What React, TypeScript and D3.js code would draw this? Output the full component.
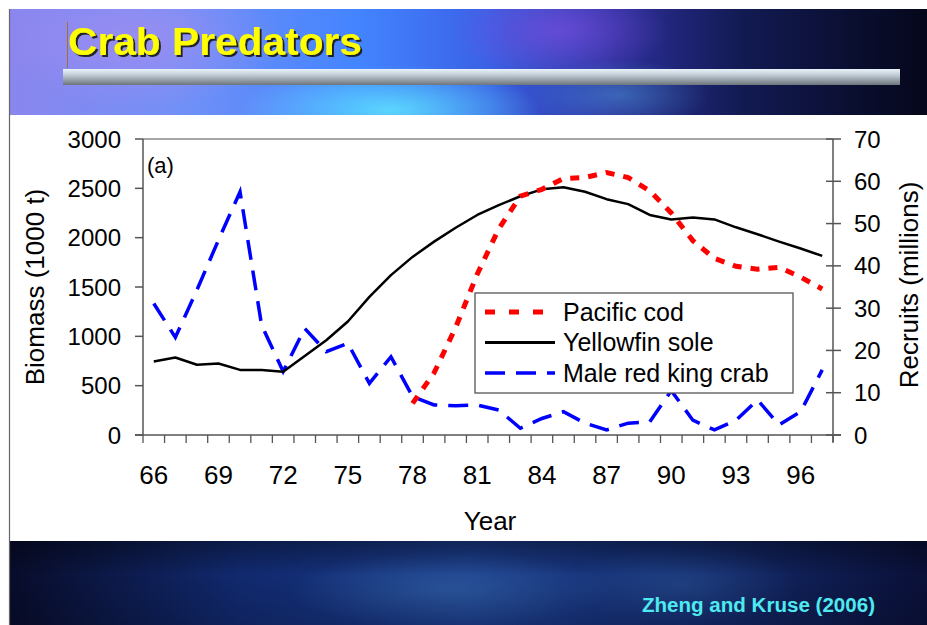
import React from 'react';
import * as d3 from 'd3';

// Years on the category axis (19xx)
const years = [66, 67, 68, 69, 70, 71, 72, 73, 74, 75, 76, 77, 78, 79, 80, 81, 82, 83, 84, 85, 86, 87, 88, 89, 90, 91, 92, 93, 94, 95, 96, 97];

// Yellowfin sole biomass (1000 t), left axis
const yellowfinSole = [745, 785, 712, 725, 660, 658, 640, 800, 960, 1150, 1400, 1620, 1805, 1960, 2100, 2230, 2330, 2420, 2490, 2510, 2465, 2390, 2340, 2230, 2185, 2205, 2185, 2105, 2035, 1960, 1890, 1815];

// Pacific cod biomass (1000 t), left axis, starts 1978
const codYears = [78, 79, 80, 81, 82, 83, 84, 85, 86, 87, 88, 89, 90, 91, 92, 93, 94, 95, 96, 97];
const pacificCod = [320, 630, 1090, 1630, 2090, 2420, 2490, 2600, 2610, 2660, 2610, 2475, 2250, 1970, 1790, 1710, 1680, 1700, 1600, 1480];

// Male red king crab recruits (millions), right axis
const kingCrab = [31.1, 23.1, 34.3, 46.1, 57.5, 26, 15.0, 25.2, 19.7, 21.7, 12.2, 18.5, 9.1, 7.1, 6.9, 7.1, 5.9, 1.6, 3.9, 5.5, 2.8, 1.2, 2.8, 3.1, 10.5, 3.5, 1.2, 3.5, 8.3, 2.4, 5.5, 15.4];

const leftTicks = [0, 500, 1000, 1500, 2000, 2500, 3000];
const rightTicks = [0, 10, 20, 30, 40, 50, 60, 70];
const yearLabels = [66, 69, 72, 75, 78, 81, 84, 87, 90, 93, 96];

const legendItems = [
    { label: 'Pacific cod', color: '#ff0000', width: 5, dash: '10 14' },
    { label: 'Yellowfin sole', color: '#000000', width: 3, dash: '' },
    { label: 'Male red king crab', color: '#0000ff', width: 3.5, dash: '20 11' },
];

const W = 927;
const H = 625;
const FONT = '"Liberation Sans", Arial, sans-serif';

export default function App() {
    const plot = { left: 143, right: 833, top: 139, bottom: 435 };

    const x = d3.scaleLinear().domain([65.5, 97.5]).range([plot.left, plot.right]);
    const yLeft = d3.scaleLinear().domain([0, 3000]).range([plot.bottom, plot.top]);
    const yRight = d3.scaleLinear().domain([0, 70]).range([plot.bottom, plot.top]);

    const lineLeft = d3.line<[number, number]>().x((d) => x(d[0])).y((d) => yLeft(d[1]));
    const lineRight = d3.line<[number, number]>().x((d) => x(d[0])).y((d) => yRight(d[1]));

    const solePath = lineLeft(years.map((yr, i) => [yr, yellowfinSole[i]] as [number, number])) ?? '';
    const codPath = lineLeft(codYears.map((yr, i) => [yr, pacificCod[i]] as [number, number])) ?? '';
    const crabPath = lineRight(years.map((yr, i) => [yr, kingCrab[i]] as [number, number])) ?? '';

    // tick marks sit on year boundaries
    const boundaries = [...years.map((yr) => yr - 0.5), 97.5];

    const axisColor = '#555';

    return (
        <svg width={W} height={H} style={{ position: 'absolute', left: 0, top: 0 }} fontFamily={FONT}>
            <defs>
                <linearGradient id="topBg" x1="0" x2="1" y1="0" y2="0">
                    <stop offset="0" stopColor="#8a86ee" />
                    <stop offset="0.18" stopColor="#7390f6" />
                    <stop offset="0.38" stopColor="#4384ff" />
                    <stop offset="0.52" stopColor="#3a62e6" />
                    <stop offset="0.66" stopColor="#2c2f9a" />
                    <stop offset="0.8" stopColor="#121a52" />
                    <stop offset="1" stopColor="#05071a" />
                </linearGradient>
                <radialGradient id="cyanGlow" cx="0.5" cy="0.5" r="0.5">
                    <stop offset="0" stopColor="#5fe6ff" stopOpacity="0.85" />
                    <stop offset="1" stopColor="#5fe6ff" stopOpacity="0" />
                </radialGradient>
                <radialGradient id="purpleGlow" cx="0.5" cy="0.5" r="0.5">
                    <stop offset="0" stopColor="#7a4de0" stopOpacity="0.7" />
                    <stop offset="1" stopColor="#7a4de0" stopOpacity="0" />
                </radialGradient>
                <radialGradient id="lilacGlow" cx="0.5" cy="0.5" r="0.5">
                    <stop offset="0" stopColor="#b08cf0" stopOpacity="0.6" />
                    <stop offset="1" stopColor="#b08cf0" stopOpacity="0" />
                </radialGradient>
                <linearGradient id="barGrad" x1="0" x2="0" y1="0" y2="1">
                    <stop offset="0" stopColor="#e8f2f8" />
                    <stop offset="0.35" stopColor="#c4d0d8" />
                    <stop offset="1" stopColor="#6c747c" />
                </linearGradient>
                <linearGradient id="botBg" x1="0" x2="1" y1="0" y2="0">
                    <stop offset="0" stopColor="#080c2a" />
                    <stop offset="0.25" stopColor="#11296e" />
                    <stop offset="0.5" stopColor="#1a3a88" />
                    <stop offset="0.75" stopColor="#132a6c" />
                    <stop offset="1" stopColor="#0a1038" />
                </linearGradient>
                <linearGradient id="botShade" x1="0" x2="0" y1="0" y2="1">
                    <stop offset="0" stopColor="#000" stopOpacity="0.35" />
                    <stop offset="0.4" stopColor="#000" stopOpacity="0" />
                    <stop offset="1" stopColor="#000" stopOpacity="0.15" />
                </linearGradient>
                <radialGradient id="botGlow" cx="0.5" cy="0.5" r="0.5">
                    <stop offset="0" stopColor="#3a70b0" stopOpacity="0.5" />
                    <stop offset="1" stopColor="#3a70b0" stopOpacity="0" />
                </radialGradient>
                <filter id="titleShadow" x="-5%" y="-20%" width="110%" height="140%">
                    <feDropShadow dx="2" dy="2" stdDeviation="0.6" floodColor="#1a1a1a" floodOpacity="0.95" />
                </filter>
                <clipPath id="topClip">
                    <rect x={9} y={9} width={W - 9} height={106} />
                </clipPath>
                <clipPath id="botClip">
                    <rect x={9} y={541} width={W - 9} height={H - 541} />
                </clipPath>
            </defs>

            <rect x={0} y={0} width={W} height={H} fill="#fff" />

            {/* top banner */}
            <g clipPath="url(#topClip)">
                <rect x={9} y={9} width={W - 9} height={106} fill="url(#topBg)" />
                <ellipse cx={140} cy={40} rx={140} ry={70} fill="url(#lilacGlow)" />
                <ellipse cx={390} cy={110} rx={150} ry={45} fill="url(#cyanGlow)" />
                <ellipse cx={560} cy={30} rx={110} ry={50} fill="url(#purpleGlow)" />
                <ellipse cx={620} cy={95} rx={90} ry={35} fill="url(#cyanGlow)" opacity={0.35} />
            </g>
            <rect x={63} y={69} width={837} height={16} fill="url(#barGrad)" />
            <line x1={67.5} x2={67.5} y1={22} y2={68} stroke="#a07030" strokeWidth={1} />
            <text x={68} y={55} fontSize={38} fontWeight={700} fill="#ffff00" textLength={294} lengthAdjust="spacingAndGlyphs" filter="url(#titleShadow)">
                Crab Predators
            </text>

            {/* bottom banner */}
            <g clipPath="url(#botClip)">
                <rect x={9} y={541} width={W - 9} height={H - 541} fill="url(#botBg)" />
                <ellipse cx={450} cy={590} rx={160} ry={40} fill="url(#botGlow)" />
                <ellipse cx={680} cy={585} rx={120} ry={40} fill="url(#botGlow)" opacity={0.6} />
                <rect x={9} y={541} width={W - 9} height={H - 541} fill="url(#botShade)" />
            </g>
            <text x={875} y={612} fontSize={20} fontWeight={700} fill="#4eeaf0" textAnchor="end" textLength={233} lengthAdjust="spacingAndGlyphs">
                Zheng and Kruse (2006)
            </text>

            {/* slide left edge */}
            <line x1={9.5} x2={9.5} y1={9} y2={H} stroke="#666" strokeWidth={1.2} />

            {/* plot frame */}
            <line x1={plot.left} x2={plot.right} y1={plot.top} y2={plot.top} stroke="#888" strokeWidth={1.5} />
            <line x1={plot.left} x2={plot.left} y1={plot.top} y2={plot.bottom} stroke={axisColor} strokeWidth={1.5} />
            <line x1={plot.right} x2={plot.right} y1={plot.top} y2={plot.bottom + 7} stroke={axisColor} strokeWidth={1.5} />
            <line x1={plot.left - 8} x2={plot.right + 8} y1={plot.bottom} y2={plot.bottom} stroke={axisColor} strokeWidth={1.5} />

            {/* left axis */}
            {leftTicks.map((t) => (
                <g key={`l${t}`}>
                    <line x1={plot.left - 8} x2={plot.left} y1={yLeft(t)} y2={yLeft(t)} stroke={axisColor} strokeWidth={1.5} />
                    <text x={121} y={yLeft(t)} dy="0.36em" fontSize={24} textAnchor="end" fill="#000">
                        {t}
                    </text>
                </g>
            ))}

            {/* right axis */}
            {rightTicks.map((t) => (
                <g key={`r${t}`}>
                    <line x1={plot.right - 7} x2={plot.right + 8} y1={yRight(t)} y2={yRight(t)} stroke={axisColor} strokeWidth={1.5} />
                    <text x={854} y={yRight(t)} dy="0.36em" fontSize={24} textAnchor="start" fill="#000">
                        {t}
                    </text>
                </g>
            ))}

            {/* bottom axis */}
            {boundaries.map((b) => (
                <line key={`b${b}`} x1={x(b)} x2={x(b)} y1={plot.bottom} y2={plot.bottom + 8} stroke={axisColor} strokeWidth={1.3} />
            ))}
            {yearLabels.map((yr) => (
                <text key={`y${yr}`} x={x(yr)} y={484} fontSize={26} textAnchor="middle" fill="#000">
                    {yr}
                </text>
            ))}

            <text x={490} y={530} fontSize={26} textAnchor="middle" fill="#000">Year</text>
            <text transform="translate(44,287) rotate(-90)" fontSize={26} textAnchor="middle" fill="#000">
                Biomass (1000 t)
            </text>
            <text transform="translate(918,285) rotate(-90)" fontSize={26} textAnchor="middle" fill="#000">
                Recruits (millions)
            </text>
            <text x={147} y={173} fontSize={22} fill="#000">(a)</text>

            {/* series */}
            <path d={crabPath} fill="none" stroke="#0000ff" strokeWidth={3.5} strokeDasharray="20 11" />
            <path d={solePath} fill="none" stroke="#000" strokeWidth={2.5} strokeLinejoin="round" />
            <path d={codPath} fill="none" stroke="#ff0000" strokeWidth={5} strokeDasharray="9 9" />

            {/* legend */}
            <rect x={475} y={293} width={318} height={100} fill="#fff" stroke={axisColor} strokeWidth={1.3} />
            {legendItems.map((it, i) => (
                <g key={it.label} transform={`translate(0,${312 + i * 30.5})`}>
                    <line x1={485} x2={555} y1={0} y2={0} stroke={it.color} strokeWidth={it.width} strokeDasharray={it.dash || undefined} />
                    <text x={563} y={0} dy="0.35em" fontSize={25} fill="#000">
                        {it.label}
                    </text>
                </g>
            ))}
        </svg>
    );
}
